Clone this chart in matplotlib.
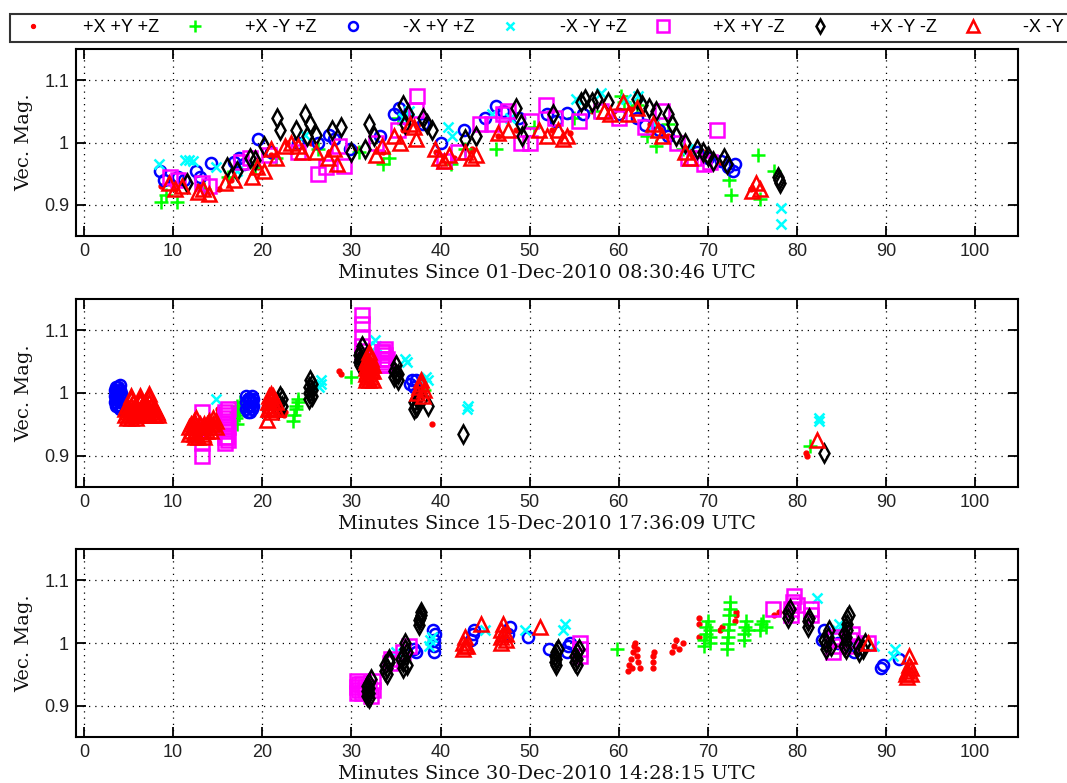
import matplotlib
matplotlib.use("Agg")
import matplotlib.pyplot as plt

# ---------------- data ----------------
series_labels = ['+X +Y +Z', '+X -Y +Z', '-X +Y +Z', '-X -Y +Z', '+X +Y -Z', '+X -Y -Z', '-X -Y -Z']
series_colors = ['red', '#00ff00', 'blue', 'cyan', 'magenta', 'black', 'red']
panel_titles = ['Minutes Since 01-Dec-2010 08:30:46 UTC',
                'Minutes Since 15-Dec-2010 17:36:09 UTC',
                'Minutes Since 30-Dec-2010 14:28:15 UTC']
x_ticks = [0, 10, 20, 30, 40, 50, 60, 70, 80, 90, 100]
y_ticks = [0.9, 1.0, 1.1]
y_tick_labels = ['0.9', '1', '1.1']

# Panel 1 (01-Dec-2010)
d1_ppp = [(8.6,0.93),(9.5,0.935),(10.2,0.925),(12.8,0.93),(13.6,0.92),(15.2,0.925),(16.5,0.94),(19.5,0.96),(21,0.98),(22.8,1.0),(24,1.005),(25.5,1.0),(27.5,0.985),(30.5,0.99),(33.5,0.985),(35.8,1.02),(37.5,1.03),(39.5,0.985),(41.5,0.975),(43.5,0.99),(46.5,1.01),(48.5,1.02),(52.5,1.02),(54.5,1.015),(57,1.05),(59.5,1.05),(61.5,1.055),(63.5,1.03),(65.5,1.01),(67.5,0.99),(69.5,0.985),(71.5,0.965),(74.8,0.925)]
d1_pmp = [(8.6,0.905),(9.2,0.915),(10.4,0.905),(13.5,0.925),(16.2,0.945),(19.2,0.96),(21.5,0.975),(26.2,0.99),(30.8,0.985),(33.5,0.965),(34.2,0.975),(35.2,1.04),(36.2,1.045),(41.2,0.965),(42.8,0.99),(46.2,0.99),(50.5,1.025),(55,1.04),(57.2,1.05),(60.2,1.075),(60.6,1.065),(62,1.06),(63.2,1.01),(64.2,0.995),(65.5,1.03),(67.2,0.99),(69.2,0.985),(72.4,0.94),(72.6,0.915),(75.6,0.98),(77.4,0.955),(75.8,0.91)]
d1_mpp = [(8.5,0.955),(9.0,0.94),(10.5,0.945),(11.2,0.94),(12.6,0.955),(13.0,0.945),(14.2,0.967),(16.8,0.968),(17.4,0.975),(18.0,0.965),(19.5,1.005),(21.0,0.985),(24.0,1.0),(26.2,1.0),(27.5,1.012),(28.0,1.005),(29.8,0.99),(33.2,1.01),(34.8,1.045),(35.3,1.055),(36.0,1.04),(38.0,1.03),(40.0,1.0),(42.6,1.02),(45.0,1.04),(46.2,1.058),(47.0,1.05),(48.8,1.04),(52.0,1.045),(53.0,1.035),(54.2,1.048),(56.0,1.045),(60.0,1.045),(62.0,1.04),(63.0,1.028),(64.5,1.02),(65.5,1.01),(68.8,0.985),(70.0,0.975),(71.5,0.97),(72.3,0.96),(72.8,0.955),(73.0,0.965)]
d1_mmp = [(8.4,0.965),(11.3,0.972),(11.8,0.972),(12.2,0.97),(14.8,0.96),(17.2,0.955),(24.8,1.012),(35.8,1.04),(36.5,1.05),(40.8,1.025),(41.3,1.01),(45.8,1.045),(47.8,1.04),(55.2,1.07),(58.0,1.08),(60.8,1.07),(62.2,1.075),(64.0,1.03),(67.8,0.99),(78.2,0.895),(78.2,0.87)]
d1_ppm = [(9.6,0.945),(10.6,0.94),(13.2,0.935),(14.0,0.93),(17.6,0.968),(18.6,0.975),(20.8,0.98),(24.0,0.985),(26.2,0.95),(27.2,0.96),(28.6,0.995),(29.2,0.962),(32.8,1.0),(35.2,1.02),(37.4,1.075),(37.2,1.052),(40.4,0.97),(42.0,0.985),(44.4,1.03),(45.8,1.03),(47.0,1.045),(47.6,1.05),(49.0,1.0),(50.2,1.035),(50.0,1.0),(51.8,1.06),(52.8,1.04),(55.5,1.035),(58.0,1.05),(60.0,1.04),(63.0,1.025),(64.8,1.05),(66.5,1.0),(68.5,0.975),(69.6,0.965),(71.0,1.02),(70.2,0.968),(67.8,0.975)]
d1_pmm = [(11.5,0.935),(16.0,0.96),(17.2,0.955),(18.6,0.975),(19.2,0.972),(20.2,0.995),(21.6,1.04),(22.0,1.02),(23.8,1.02),(24.8,1.045),(25.4,1.03),(25.0,1.01),(26.0,1.012),(27.8,1.02),(28.8,1.025),(30.0,0.985),(31.5,0.99),(32.0,1.03),(32.5,1.01),(35.8,1.06),(36.4,1.045),(36.0,1.03),(38.0,1.04),(38.5,1.03),(39.0,1.02),(42.8,1.005),(44.0,1.01),(48.5,1.055),(49.0,1.03),(49.2,1.01),(52.6,1.045),(55.8,1.065),(56.2,1.07),(57.0,1.065),(57.6,1.07),(58.8,1.065),(62.0,1.07),(62.6,1.06),(63.4,1.055),(64.2,1.05),(65.5,1.045),(66.0,1.03),(66.4,1.01),(67.4,1.0),(68.8,0.99),(69.4,0.985),(70.0,0.978),(70.6,0.97),(71.8,0.975),(72.2,0.965),(77.9,0.945),(78.0,0.94),(78.1,0.935)]
d1_mmm = [(9.5,0.935),(10.2,0.925),(11.0,0.93),(12.8,0.92),(13.4,0.925),(14.0,0.918),(15.8,0.935),(16.8,0.94),(18.8,0.945),(19.4,0.96),(20.2,0.955),(21.0,0.99),(21.5,0.975),(22.5,0.995),(23.2,1.0),(24.0,0.995),(24.5,0.985),(26.0,0.985),(27.4,0.975),(28.0,0.99),(28.4,0.965),(32.8,0.98),(33.4,0.995),(34.8,1.01),(35.4,1.0),(36.6,1.03),(37.0,1.025),(37.2,1.005),(39.4,0.99),(39.8,0.975),(40.4,0.97),(41.0,0.98),(42.8,0.985),(43.4,0.975),(44.0,0.98),(46.4,1.015),(47.6,1.02),(51.0,1.02),(52.0,1.01),(53.2,1.02),(53.8,1.005),(54.2,1.01),(58.4,1.05),(59.0,1.045),(60.5,1.065),(61.0,1.045),(62.0,1.055),(63.8,1.03),(64.4,1.02),(64.8,1.01),(67.4,0.985),(68.0,0.975),(75.4,0.935),(75.0,0.922),(75.8,0.925)]

# Panel 2 (15-Dec-2010)
d2_ppp = [(15.0,0.975),(15.2,0.97),(22.4,0.965),(22.6,0.97),(28.6,1.035),(28.8,1.03),(39.0,0.95),(81.0,0.905),(81.1,0.9),(20.8,0.965),(32.0,1.015),(37.8,1.0)]
d2_pmp = [(17.0,0.96),(17.0,0.97),(17.2,0.98),(17.4,0.965),(17.4,0.975),(17.5,0.985),(17.2,0.95),(23.5,0.955),(23.6,0.965),(23.8,0.975),(24.0,0.985),(24.0,0.99),(23.8,0.98),(30.0,1.025),(38.2,1.005),(81.5,0.915)]
d2_mpp = [(3.6,0.98),(3.6,0.99),(3.6,1.0),(3.6,1.01),(4.0,0.975),(4.0,0.985),(4.0,0.995),(4.0,1.005),(4.0,1.012),
          (3.5,0.985),(3.5,0.995),(3.5,1.005),(3.8,0.98),(3.8,0.99),(3.8,1.0),(3.8,1.01),(4.2,0.98),(4.2,0.99),(4.2,1.0),
          (18.2,0.975),(18.2,0.985),(18.6,0.97),(18.6,0.98),(18.6,0.99),(19.0,0.98),(19.0,0.99),
          (18.4,0.97),(18.4,0.98),(18.4,0.99),(18.8,0.975),(18.8,0.985),(18.8,0.995),(18.2,0.995),
          (36.6,1.015),(36.8,1.02),(37.0,1.01),(37.2,1.02)]
d2_mmp = [(14.8,0.99),(26.4,1.01),(26.6,1.015),(26.6,1.02),(32.6,1.085),(32.8,1.075),(36.0,1.055),(36.2,1.05),(38.4,1.025),(38.6,1.02),(43.0,0.975),(43.1,0.98),(82.5,0.96),(82.5,0.955)]
d2_ppm = [(13.2,0.9),(13.2,0.92),(13.2,0.945),(13.2,0.97),(15.8,0.92),(15.8,0.93),(15.8,0.94),(15.8,0.95),(15.8,0.96),(15.8,0.97),(16.1,0.975),(16.1,0.925),(16.1,0.945),
          (16.0,0.93),(16.0,0.955),(16.0,0.965),
          (31.2,1.06),(31.2,1.075),(31.2,1.09),(31.2,1.11),(31.2,1.125),(33.4,1.045),(33.4,1.055),(33.4,1.065),(33.8,1.05),(33.8,1.06),(33.8,1.07),
          (33.6,1.045),(33.6,1.055),(33.6,1.065),(34.0,1.055)]
d2_pmm = [(21.8,0.975),(21.8,0.985),(22.0,0.995),(22.2,0.98),(22.2,0.99),(25.2,0.99),(25.2,1.0),(25.2,1.01),(25.4,1.02),(25.6,0.995),(25.6,1.005),(25.6,1.015),
          (31.0,1.045),(31.0,1.055),(31.0,1.065),(31.2,1.075),(30.8,1.06),(30.8,1.05),(31.2,1.05),
          (34.8,1.025),(34.8,1.035),(35.0,1.045),(35.2,1.03),(35.2,1.02),(35.0,1.03),
          (37.0,0.975),(37.0,0.985),(37.4,0.98),(37.4,0.99),(37.6,0.995),(37.2,0.978),(38.6,0.98),(42.5,0.935),(83.0,0.905)]
d2_mmm = [(4.8,0.96),(4.8,0.97),(4.8,0.98),(5.3,0.96),(5.3,0.97),(5.3,0.98),(5.3,0.99),(5.8,0.96),(5.8,0.97),(5.8,0.98),(6.3,0.965),(6.3,0.975),(6.3,0.985),(6.3,0.99),(6.8,0.965),(6.8,0.975),(6.8,0.985),(7.3,0.965),(7.3,0.975),(7.3,0.985),(7.3,0.993),(7.8,0.965),(7.8,0.975),(8.2,0.97),
          (5.0,0.965),(5.0,0.975),(5.5,0.965),(5.5,0.975),(5.5,0.985),(6.0,0.965),(6.0,0.975),(6.5,0.97),(6.5,0.98),(7.0,0.97),(7.0,0.98),(7.5,0.97),(7.5,0.98),(8.0,0.965),(8.0,0.975),(8.3,0.965),(4.6,0.965),(4.6,0.975),(5.3,0.995),(6.3,0.995),(7.3,0.998),
          (11.8,0.935),(11.8,0.945),(12.3,0.935),(12.3,0.945),(12.3,0.955),(12.6,0.96),(12.8,0.93),(12.8,0.945),(13.3,0.935),(13.3,0.945),(13.8,0.94),(13.8,0.95),(14.3,0.94),(14.3,0.95),(14.5,0.96),(14.8,0.945),
          (12.0,0.94),(12.0,0.95),(12.5,0.94),(12.5,0.95),(13.0,0.94),(13.0,0.95),(13.5,0.94),(13.5,0.95),(14.0,0.945),(14.0,0.955),(14.5,0.95),(14.8,0.955),(12.5,0.93),(13.5,0.93),
          (20.6,0.975),(20.6,0.985),(21.0,0.97),(21.0,0.98),(21.0,0.99),(21.0,0.998),(21.5,0.975),(21.5,0.985),(20.5,0.957),
          (20.8,0.975),(20.8,0.985),(20.8,0.995),(21.2,0.975),(21.2,0.985),(21.2,0.995),
          (31.6,1.02),(31.6,1.03),(31.6,1.04),(31.6,1.05),(32.0,1.02),(32.0,1.03),(32.0,1.04),(32.0,1.05),(32.0,1.06),(32.4,1.02),(32.4,1.035),(32.4,1.045),
          (31.8,1.025),(31.8,1.035),(31.8,1.045),(31.8,1.055),(32.2,1.025),(32.2,1.035),(32.2,1.045),(32.2,1.055),(32.0,1.065),
          (37.4,1.0),(37.6,1.01),(37.8,1.02),(38.2,1.005),(38.0,0.995),(37.8,1.015),(82.3,0.925)]

# Panel 3 (30-Dec-2010)
d3_ppp = [(61.0,0.955),(61.2,0.965),(61.4,0.975),(61.6,0.985),(61.7,0.995),(61.8,1.0),(62.0,0.99),(62.1,0.98),(62.2,0.97),(62.4,0.96),(61.5,0.96),(63.8,0.96),(63.8,0.97),(63.9,0.98),(64.0,0.985),(66.0,0.985),(66.2,0.995),(66.4,1.005),(66.8,0.99),(67.2,1.0),(69.0,1.01),(69.0,1.03),(69.0,1.04),(71.4,1.02),(71.6,1.025),(73.0,1.035),(73.2,1.045),(73.2,1.05),(77.4,1.045),(78.0,1.05)]
d3_pmp = [(59.8,0.99),(69.6,0.995),(69.6,1.005),(69.8,1.015),(69.8,1.025),(70.0,1.035),(70.2,1.0),(70.2,1.01),(70.2,1.02),(72.2,0.99),(72.2,1.0),(72.3,1.01),(72.3,1.02),(72.4,1.03),(72.4,1.045),(72.5,1.055),(72.5,1.065),(74.0,1.005),(74.0,1.015),(74.2,1.025),(74.3,1.035),(74.5,1.02),(75.8,1.02),(76.0,1.03),(76.2,1.035),(76.5,1.025)]
d3_mpp = [(37.3,0.985),(37.0,0.99),(39.3,0.985),(39.3,0.995),(39.3,1.005),(39.4,1.015),(39.2,1.02),(43.4,1.005),(43.6,1.015),(43.8,1.02),(47.6,1.015),(47.8,1.025),(49.8,1.01),(52.2,0.99),(54.2,0.985),(54.3,0.995),(54.5,1.0),(82.8,1.005),(83.0,1.02),(84.6,1.0),(86.4,0.985),(86.6,0.995),(89.4,0.96),(89.6,0.965),(91.5,0.975)]
d3_mmp = [(35.0,0.985),(38.7,0.995),(38.8,1.005),(39.0,1.01),(45.0,1.02),(49.5,1.02),(53.8,1.02),(54.0,1.03),(82.3,1.072),(84.5,1.02),(84.7,1.03),(88.6,0.995),(90.8,0.98),(91.0,0.99)]
d3_ppm = [(30.6,0.92),(30.6,0.93),(30.6,0.94),(31.2,0.92),(31.2,0.935),(32.2,0.915),(32.4,0.925),(32.4,0.94),(30.8,0.925),(30.8,0.935),(31.5,0.925),(31.5,0.93),(32.0,0.93),
          (34.5,0.975),(34.3,0.968),(35.8,0.985),(36.5,0.995),(55.6,0.98),(55.6,0.99),(55.6,1.0),(77.3,1.055),(79.3,1.045),(79.3,1.055),(79.5,1.065),(79.7,1.075),(80.0,1.06),(81.6,1.045),(81.6,1.055),(84.0,0.985),(84.0,0.995),(84.2,1.005),(84.2,1.01),(86.0,0.995),(86.0,1.005),(86.2,1.015),(88.0,1.0)]
d3_pmm = [(32.0,0.912),(32.0,0.92),(32.0,0.928),(32.0,0.936),(32.2,0.942),(31.8,0.916),(31.8,0.924),(31.8,0.932),(34.0,0.95),(34.0,0.96),(34.2,0.97),(34.2,0.975),(33.8,0.955),(33.8,0.965),
          (35.8,0.96),(35.8,0.97),(35.8,0.98),(36.0,0.99),(36.0,1.0),(36.2,0.965),(35.6,0.975),(36.2,0.985),(37.6,1.028),(37.6,1.036),(37.8,1.045),(37.8,1.05),(37.7,1.04),
          (53.0,0.965),(53.0,0.975),(53.0,0.985),(53.2,0.99),(52.8,0.97),(52.8,0.98),(55.3,0.965),(55.3,0.975),(55.3,0.985),(55.5,0.99),(55.1,0.97),(55.1,0.98),
          (79.0,1.04),(79.0,1.05),(79.2,1.055),(81.2,1.025),(81.2,1.035),(81.4,1.04),(83.3,0.99),(83.3,1.0),(83.5,1.01),(83.6,1.02),(83.8,0.995),(83.0,1.005),
          (85.5,0.99),(85.5,1.0),(85.5,1.01),(85.6,1.02),(85.6,1.03),(85.6,1.04),(85.8,1.045),(85.3,0.995),(85.3,1.015),(87.0,0.985),(87.4,0.99),(87.6,1.0),(86.8,0.995)]
d3_mmm = [(42.5,0.99),(42.5,1.0),(42.8,1.01),(43.0,0.995),(42.7,0.995),(44.6,1.03),(46.8,1.0),(46.8,1.01),(46.8,1.02),(47.0,1.03),(47.3,1.005),(47.3,1.015),(47.0,1.015),(51.2,1.025),(88.0,1.0),
          (92.4,0.945),(92.4,0.955),(92.6,0.965),(92.6,0.98),(92.8,0.95),(92.8,0.96),(92.2,0.95)]

panels = [
    [d1_ppp, d1_pmp, d1_mpp, d1_mmp, d1_ppm, d1_pmm, d1_mmm],
    [d2_ppp, d2_pmp, d2_mpp, d2_mmp, d2_ppm, d2_pmm, d2_mmm],
    [d3_ppp, d3_pmp, d3_mpp, d3_mmp, d3_ppm, d3_pmm, d3_mmm],
]

# ---------------- styles ----------------
markers = ['o', '+', 'o', 'x', 's', 'd', '^']
msizes = [3.5, 10, 8, 7, 10, 9, 10]
filled = [True, False, False, False, False, False, False]

W, H = 1067, 783
fig = plt.figure(figsize=(W / 100, H / 100), dpi=100)
axes_px = [(49, 236), (299, 487), (549, 737)]
left_px, right_px = 76, 1018

serif = ['DejaVu Serif']
sans = ['Liberation Sans', 'DejaVu Sans']

handles = []
for pi, (top, bot) in enumerate(axes_px):
    ax = fig.add_axes([left_px / W, 1 - bot / H, (right_px - left_px) / W, (bot - top) / H])
    for si, pts in enumerate(panels[pi]):
        xs = [p[0] for p in pts]
        ys = [p[1] for p in pts]
        c = series_colors[si]
        ln, = ax.plot(xs, ys, linestyle='none', marker=markers[si], markersize=msizes[si],
                      markeredgecolor=c, markerfacecolor=(c if filled[si] else 'none'),
                      markeredgewidth=(1 if filled[si] else 1.8), label=series_labels[si], zorder=3)
        if pi == 0:
            handles.append(ln)
    ax.set_xlim(-0.9, 104.8)
    ax.set_ylim(0.85, 1.15)
    ax.set_xticks(x_ticks)
    ax.set_yticks(y_ticks)
    ax.set_yticklabels(y_tick_labels)
    ax.grid(True, color='black', linestyle=(0, (1, 4)), linewidth=0.9)
    ax.set_axisbelow(True)
    ax.tick_params(direction='in', length=7, width=1.3, top=True, right=True,
                   labelsize=13, pad=5)
    for lab in ax.get_xticklabels() + ax.get_yticklabels():
        lab.set_family(sans)
        lab.set_color('#222222')
    for sp in ax.spines.values():
        sp.set_linewidth(1.5)
    ax.set_xlabel(panel_titles[pi], fontsize=14, family=serif, labelpad=3, color='#111111')
    ax.set_ylabel('Vec. Mag.', fontsize=14, family=serif, labelpad=8, color='#111111')

leg = fig.legend(handles=handles, labels=series_labels, loc='upper left',
                 bbox_to_anchor=(10 / W, 1 - 14 / H), ncol=7, frameon=True,
                 prop={'family': sans, 'size': 13}, handlelength=2.0, handletextpad=1.75,
                 columnspacing=1.0, borderpad=0.3, fancybox=False, borderaxespad=0,
                 markerscale=0.8)
leg.get_frame().set_edgecolor('black')
leg.get_frame().set_linewidth(1.5)

fig.savefig('out.png', dpi=100)
